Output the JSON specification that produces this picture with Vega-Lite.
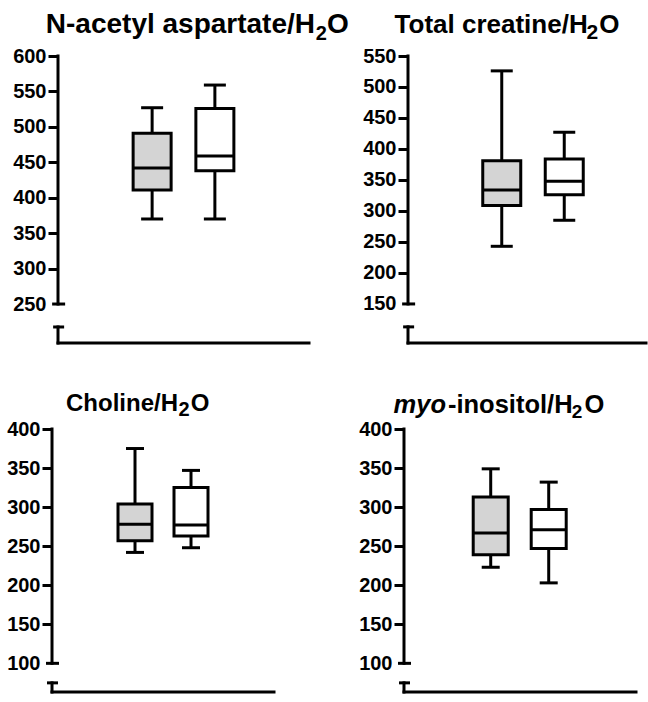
{
  "$schema": "https://vega.github.io/schema/vega-lite/v6.json",
  "background": "white",
  "padding": {"left": 6, "top": 10, "right": 0, "bottom": 0},
  "columns": 2,
  "spacing": {"row": 86, "column": 99},
  "bounds": "flush",
  "config": {
    "view": {"stroke": null},
    "axisY": {"domain": false, "grid": false, "tickSize": 10, "tickWidth": 3, "labelFont": "Liberation Sans", "labelFontSize": 20, "labelFontWeight": "bold", "labelColor": "black", "labelPadding": 2, "labelOverlap": false, "tickCount": 30},
    "text": {"font": "Liberation Sans", "fontWeight": "bold", "color": "black", "baseline": "alphabetic"}
  },
  "concat": [
    {
      "width": 251, "height": 287,
      "data": {"values": [
        {"g": 1, "min": 370, "q1": 411, "med": 442, "q3": 491, "max": 527},
        {"g": 2, "min": 370, "q1": 438, "med": 459, "q3": 526, "max": 559}
      ]},
      "layer": [
        {"mark": {"type": "rule", "color": "black", "strokeWidth": 3},
         "encoding": {
           "x": {"field": "g", "type": "quantitative", "scale": {"domain": [-0.5, 3.5], "nice": false, "zero": false, "padding": 0}, "axis": null},
           "y": {"field": "min", "type": "quantitative", "title": null, "scale": {"domain": [195, 600], "nice": false, "zero": false, "padding": 0},
                 "axis": {"labelOverlap": false, "tickCount": 30, "values": [250, 300, 350, 400, 450, 500, 550, 600], "tickColor": {"condition": {"test": "datum.value <= 250", "value": "transparent"}, "value": "black"}}},
           "y2": {"field": "max"}}},
        {"mark": {"type": "bar", "size": 38, "stroke": "black", "strokeWidth": 3},
         "encoding": {
           "x": {"field": "g", "type": "quantitative", "axis": null},
           "y": {"field": "q1", "type": "quantitative", "title": null},
           "y2": {"field": "q3"},
           "fill": {"field": "g", "type": "nominal", "scale": {"range": ["#d4d4d4", "#ffffff"]}, "legend": null}}},
        {"mark": {"type": "tick", "orient": "horizontal", "size": 38, "thickness": 3, "color": "black", "opacity": 1},
         "encoding": {"x": {"field": "g", "type": "quantitative", "axis": null}, "y": {"field": "med", "type": "quantitative", "title": null}}},
        {"mark": {"type": "tick", "orient": "horizontal", "size": 22, "thickness": 3, "color": "black", "opacity": 1},
         "encoding": {"x": {"field": "g", "type": "quantitative", "axis": null}, "y": {"field": "min", "type": "quantitative", "title": null}}},
        {"mark": {"type": "tick", "orient": "horizontal", "size": 22, "thickness": 3, "color": "black", "opacity": 1},
         "encoding": {"x": {"field": "g", "type": "quantitative", "axis": null}, "y": {"field": "max", "type": "quantitative", "title": null}}},
        {"data": {"values": [{}]},
         "mark": {"type": "rule", "color": "black", "strokeWidth": 3, "strokeCap": "square"},
         "encoding": {"x": {"datum": -0.5, "type": "quantitative", "axis": null}, "y": {"datum": 250, "type": "quantitative", "title": null}, "y2": {"datum": 600}}},
        {"data": {"values": [{}]},
         "mark": {"type": "rule", "color": "black", "strokeWidth": 3, "strokeCap": "square"},
         "encoding": {"x": {"datum": -0.5, "type": "quantitative", "axis": null}, "y": {"datum": 195, "type": "quantitative", "title": null}, "y2": {"datum": 217.6}}},
        {"data": {"values": [{}]},
         "mark": {"type": "rule", "color": "black", "strokeWidth": 3, "strokeCap": "square"},
         "encoding": {"x": {"datum": -0.5, "type": "quantitative", "axis": null}, "x2": {"datum": 3.5}, "y": {"datum": 195, "type": "quantitative", "title": null}}},
        {"data": {"values": [{}]},
         "mark": {"type": "tick", "orient": "horizontal", "size": 13, "thickness": 3, "color": "black", "opacity": 1},
         "encoding": {"x": {"datum": -0.49, "type": "quantitative", "axis": null}, "y": {"datum": 250, "type": "quantitative", "title": null}}},
        {"data": {"values": [{}]},
         "mark": {"type": "tick", "orient": "horizontal", "size": 11, "thickness": 3, "color": "black", "opacity": 1},
         "encoding": {"x": {"datum": -0.49, "type": "quantitative", "axis": null}, "y": {"datum": 217.6, "type": "quantitative", "title": null}}},
        {"data": {"values": [{"t": "N-acetyl aspartate/H"}]},
         "mark": {"type": "text", "align": "right", "fontSize": 28},
         "encoding": {"text": {"field": "t"}, "x": {"datum": 3.596, "type": "quantitative", "axis": null}, "y": {"datum": 632.5, "type": "quantitative", "title": null}}},
        {"data": {"values": [{"t": "2"}]},
         "mark": {"type": "text", "align": "left", "fontSize": 20},
         "encoding": {"text": {"field": "t"}, "x": {"datum": 3.606, "type": "quantitative", "axis": null}, "y": {"datum": 623, "type": "quantitative", "title": null}}},
        {"data": {"values": [{"t": "O"}]},
         "mark": {"type": "text", "align": "left", "fontSize": 28},
         "encoding": {"text": {"field": "t"}, "x": {"datum": 3.787, "type": "quantitative", "axis": null}, "y": {"datum": 632.5, "type": "quantitative", "title": null}}}
      ]
    },
    {
      "width": 238, "height": 287,
      "data": {"values": [
        {"g": 1, "min": 243, "q1": 309, "med": 334, "q3": 381, "max": 526},
        {"g": 2, "min": 285, "q1": 326, "med": 348, "q3": 384, "max": 427}
      ]},
      "layer": [
        {"mark": {"type": "rule", "color": "black", "strokeWidth": 3},
         "encoding": {
           "x": {"field": "g", "type": "quantitative", "scale": {"domain": [-0.5, 3.308], "nice": false, "zero": false, "padding": 0}, "axis": null},
           "y": {"field": "min", "type": "quantitative", "title": null, "scale": {"domain": [87, 550], "nice": false, "zero": false, "padding": 0},
                 "axis": {"labelOverlap": false, "tickCount": 30, "values": [150, 200, 250, 300, 350, 400, 450, 500, 550], "tickColor": {"condition": {"test": "datum.value <= 150", "value": "transparent"}, "value": "black"}}},
           "y2": {"field": "max"}}},
        {"mark": {"type": "bar", "size": 38, "stroke": "black", "strokeWidth": 3},
         "encoding": {
           "x": {"field": "g", "type": "quantitative", "axis": null},
           "y": {"field": "q1", "type": "quantitative", "title": null},
           "y2": {"field": "q3"},
           "fill": {"field": "g", "type": "nominal", "scale": {"range": ["#d4d4d4", "#ffffff"]}, "legend": null}}},
        {"mark": {"type": "tick", "orient": "horizontal", "size": 38, "thickness": 3, "color": "black", "opacity": 1},
         "encoding": {"x": {"field": "g", "type": "quantitative", "axis": null}, "y": {"field": "med", "type": "quantitative", "title": null}}},
        {"mark": {"type": "tick", "orient": "horizontal", "size": 22, "thickness": 3, "color": "black", "opacity": 1},
         "encoding": {"x": {"field": "g", "type": "quantitative", "axis": null}, "y": {"field": "min", "type": "quantitative", "title": null}}},
        {"mark": {"type": "tick", "orient": "horizontal", "size": 22, "thickness": 3, "color": "black", "opacity": 1},
         "encoding": {"x": {"field": "g", "type": "quantitative", "axis": null}, "y": {"field": "max", "type": "quantitative", "title": null}}},
        {"data": {"values": [{}]},
         "mark": {"type": "rule", "color": "black", "strokeWidth": 3, "strokeCap": "square"},
         "encoding": {"x": {"datum": -0.5, "type": "quantitative", "axis": null}, "y": {"datum": 150, "type": "quantitative", "title": null}, "y2": {"datum": 550}}},
        {"data": {"values": [{}]},
         "mark": {"type": "rule", "color": "black", "strokeWidth": 3, "strokeCap": "square"},
         "encoding": {"x": {"datum": -0.5, "type": "quantitative", "axis": null}, "y": {"datum": 87, "type": "quantitative", "title": null}, "y2": {"datum": 113}}},
        {"data": {"values": [{}]},
         "mark": {"type": "rule", "color": "black", "strokeWidth": 3, "strokeCap": "square"},
         "encoding": {"x": {"datum": -0.5, "type": "quantitative", "axis": null}, "x2": {"datum": 3.308}, "y": {"datum": 87, "type": "quantitative", "title": null}}},
        {"data": {"values": [{}]},
         "mark": {"type": "tick", "orient": "horizontal", "size": 13, "thickness": 3, "color": "black", "opacity": 1},
         "encoding": {"x": {"datum": -0.49, "type": "quantitative", "axis": null}, "y": {"datum": 150, "type": "quantitative", "title": null}}},
        {"data": {"values": [{}]},
         "mark": {"type": "tick", "orient": "horizontal", "size": 11, "thickness": 3, "color": "black", "opacity": 1},
         "encoding": {"x": {"datum": -0.49, "type": "quantitative", "axis": null}, "y": {"datum": 113, "type": "quantitative", "title": null}}},
        {"data": {"values": [{"t": "Total creatine/H"}]},
         "mark": {"type": "text", "align": "right", "fontSize": 26},
         "encoding": {"text": {"field": "t"}, "x": {"datum": 2.375, "type": "quantitative", "axis": null}, "y": {"datum": 586.6, "type": "quantitative", "title": null}}},
        {"data": {"values": [{"t": "2"}]},
         "mark": {"type": "text", "align": "left", "fontSize": 21},
         "encoding": {"text": {"field": "t"}, "x": {"datum": 2.354, "type": "quantitative", "axis": null}, "y": {"datum": 576.9, "type": "quantitative", "title": null}}},
        {"data": {"values": [{"t": "O"}]},
         "mark": {"type": "text", "align": "left", "fontSize": 26},
         "encoding": {"text": {"field": "t"}, "x": {"datum": 2.558, "type": "quantitative", "axis": null}, "y": {"datum": 586.6, "type": "quantitative", "title": null}}}
      ]
    },
    {
      "width": 216, "height": 263,
      "data": {"values": [
        {"g": 1, "min": 242, "q1": 257, "med": 278, "q3": 304, "max": 375},
        {"g": 2, "min": 248, "q1": 263, "med": 277, "q3": 325, "max": 347}
      ]},
      "layer": [
        {"mark": {"type": "rule", "color": "black", "strokeWidth": 3},
         "encoding": {
           "x": {"field": "g", "type": "quantitative", "scale": {"domain": [-0.375, 3.482], "nice": false, "zero": false, "padding": 0}, "axis": null},
           "y": {"field": "min", "type": "quantitative", "title": null, "scale": {"domain": [63.3, 400], "nice": false, "zero": false, "padding": 0},
                 "axis": {"labelOverlap": false, "tickCount": 30, "offset": 6, "values": [100, 150, 200, 250, 300, 350, 400], "tickColor": {"condition": {"test": "datum.value <= 100", "value": "transparent"}, "value": "black"}}},
           "y2": {"field": "max"}}},
        {"mark": {"type": "bar", "size": 34, "stroke": "black", "strokeWidth": 3},
         "encoding": {
           "x": {"field": "g", "type": "quantitative", "axis": null},
           "y": {"field": "q1", "type": "quantitative", "title": null},
           "y2": {"field": "q3"},
           "fill": {"field": "g", "type": "nominal", "scale": {"range": ["#d4d4d4", "#ffffff"]}, "legend": null}}},
        {"mark": {"type": "tick", "orient": "horizontal", "size": 34, "thickness": 3, "color": "black", "opacity": 1},
         "encoding": {"x": {"field": "g", "type": "quantitative", "axis": null}, "y": {"field": "med", "type": "quantitative", "title": null}}},
        {"mark": {"type": "tick", "orient": "horizontal", "size": 18, "thickness": 3, "color": "black", "opacity": 1},
         "encoding": {"x": {"field": "g", "type": "quantitative", "axis": null}, "y": {"field": "min", "type": "quantitative", "title": null}}},
        {"mark": {"type": "tick", "orient": "horizontal", "size": 18, "thickness": 3, "color": "black", "opacity": 1},
         "encoding": {"x": {"field": "g", "type": "quantitative", "axis": null}, "y": {"field": "max", "type": "quantitative", "title": null}}},
        {"data": {"values": [{}]},
         "mark": {"type": "rule", "color": "black", "strokeWidth": 3, "strokeCap": "square"},
         "encoding": {"x": {"datum": -0.482, "type": "quantitative", "axis": null}, "y": {"datum": 100, "type": "quantitative", "title": null}, "y2": {"datum": 400}}},
        {"data": {"values": [{}]},
         "mark": {"type": "rule", "color": "black", "strokeWidth": 3, "strokeCap": "square"},
         "encoding": {"x": {"datum": -0.482, "type": "quantitative", "axis": null}, "y": {"datum": 63.3, "type": "quantitative", "title": null}, "y2": {"datum": 75}}},
        {"data": {"values": [{}]},
         "mark": {"type": "rule", "color": "black", "strokeWidth": 3, "strokeCap": "square"},
         "encoding": {"x": {"datum": -0.482, "type": "quantitative", "axis": null}, "x2": {"datum": 3.482}, "y": {"datum": 63.3, "type": "quantitative", "title": null}}},
        {"data": {"values": [{}]},
         "mark": {"type": "tick", "orient": "horizontal", "size": 13, "thickness": 3, "color": "black", "opacity": 1},
         "encoding": {"x": {"datum": -0.473, "type": "quantitative", "axis": null}, "y": {"datum": 100, "type": "quantitative", "title": null}}},
        {"data": {"values": [{}]},
         "mark": {"type": "tick", "orient": "horizontal", "size": 11, "thickness": 3, "color": "black", "opacity": 1},
         "encoding": {"x": {"datum": -0.473, "type": "quantitative", "axis": null}, "y": {"datum": 75, "type": "quantitative", "title": null}}},
        {"data": {"values": [{"t": "Choline/H"}]},
         "mark": {"type": "text", "align": "right", "fontSize": 24},
         "encoding": {"text": {"field": "t"}, "x": {"datum": 1.768, "type": "quantitative", "axis": null}, "y": {"datum": 423.4, "type": "quantitative", "title": null}}},
        {"data": {"values": [{"t": "2"}]},
         "mark": {"type": "text", "align": "left", "fontSize": 20},
         "encoding": {"text": {"field": "t"}, "x": {"datum": 1.775, "type": "quantitative", "axis": null}, "y": {"datum": 416.6, "type": "quantitative", "title": null}}},
        {"data": {"values": [{"t": "O"}]},
         "mark": {"type": "text", "align": "left", "fontSize": 24},
         "encoding": {"text": {"field": "t"}, "x": {"datum": 1.996, "type": "quantitative", "axis": null}, "y": {"datum": 423.4, "type": "quantitative", "title": null}}}
      ]
    },
    {
      "width": 228, "height": 263,
      "data": {"values": [
        {"g": 1, "min": 223, "q1": 239, "med": 267, "q3": 313, "max": 349},
        {"g": 2, "min": 203, "q1": 247, "med": 271, "q3": 297, "max": 332}
      ]},
      "layer": [
        {"mark": {"type": "rule", "color": "black", "strokeWidth": 3},
         "encoding": {
           "x": {"field": "g", "type": "quantitative", "scale": {"domain": [-0.426, 3.505], "nice": false, "zero": false, "padding": 0}, "axis": null},
           "y": {"field": "min", "type": "quantitative", "title": null, "scale": {"domain": [63.3, 400], "nice": false, "zero": false, "padding": 0},
                 "axis": {"labelOverlap": false, "tickCount": 30, "offset": 4, "values": [100, 150, 200, 250, 300, 350, 400], "tickColor": {"condition": {"test": "datum.value <= 100", "value": "transparent"}, "value": "black"}}},
           "y2": {"field": "max"}}},
        {"mark": {"type": "bar", "size": 35, "stroke": "black", "strokeWidth": 3},
         "encoding": {
           "x": {"field": "g", "type": "quantitative", "axis": null},
           "y": {"field": "q1", "type": "quantitative", "title": null},
           "y2": {"field": "q3"},
           "fill": {"field": "g", "type": "nominal", "scale": {"range": ["#d4d4d4", "#ffffff"]}, "legend": null}}},
        {"mark": {"type": "tick", "orient": "horizontal", "size": 35, "thickness": 3, "color": "black", "opacity": 1},
         "encoding": {"x": {"field": "g", "type": "quantitative", "axis": null}, "y": {"field": "med", "type": "quantitative", "title": null}}},
        {"mark": {"type": "tick", "orient": "horizontal", "size": 18, "thickness": 3, "color": "black", "opacity": 1},
         "encoding": {"x": {"field": "g", "type": "quantitative", "axis": null}, "y": {"field": "min", "type": "quantitative", "title": null}}},
        {"mark": {"type": "tick", "orient": "horizontal", "size": 18, "thickness": 3, "color": "black", "opacity": 1},
         "encoding": {"x": {"field": "g", "type": "quantitative", "axis": null}, "y": {"field": "max", "type": "quantitative", "title": null}}},
        {"data": {"values": [{}]},
         "mark": {"type": "rule", "color": "black", "strokeWidth": 3, "strokeCap": "square"},
         "encoding": {"x": {"datum": -0.495, "type": "quantitative", "axis": null}, "y": {"datum": 100, "type": "quantitative", "title": null}, "y2": {"datum": 400}}},
        {"data": {"values": [{}]},
         "mark": {"type": "rule", "color": "black", "strokeWidth": 3, "strokeCap": "square"},
         "encoding": {"x": {"datum": -0.495, "type": "quantitative", "axis": null}, "y": {"datum": 63.3, "type": "quantitative", "title": null}, "y2": {"datum": 75}}},
        {"data": {"values": [{}]},
         "mark": {"type": "rule", "color": "black", "strokeWidth": 3, "strokeCap": "square"},
         "encoding": {"x": {"datum": -0.495, "type": "quantitative", "axis": null}, "x2": {"datum": 3.505}, "y": {"datum": 63.3, "type": "quantitative", "title": null}}},
        {"data": {"values": [{}]},
         "mark": {"type": "tick", "orient": "horizontal", "size": 13, "thickness": 3, "color": "black", "opacity": 1},
         "encoding": {"x": {"datum": -0.486, "type": "quantitative", "axis": null}, "y": {"datum": 100, "type": "quantitative", "title": null}}},
        {"data": {"values": [{}]},
         "mark": {"type": "tick", "orient": "horizontal", "size": 11, "thickness": 3, "color": "black", "opacity": 1},
         "encoding": {"x": {"datum": -0.486, "type": "quantitative", "axis": null}, "y": {"datum": 75, "type": "quantitative", "title": null}}},
        {"data": {"values": [{"t": "myo"}]},
         "mark": {"type": "text", "align": "right", "fontSize": 25.5, "fontStyle": "italic"},
         "encoding": {"text": {"field": "t"}, "x": {"datum": 0.229, "type": "quantitative", "axis": null}, "y": {"datum": 420.1, "type": "quantitative", "title": null}}},
        {"data": {"values": [{"t": "-inositol/H"}]},
         "mark": {"type": "text", "align": "right", "fontSize": 25.5},
         "encoding": {"text": {"field": "t"}, "x": {"datum": 2.412, "type": "quantitative", "axis": null}, "y": {"datum": 420.1, "type": "quantitative", "title": null}}},
        {"data": {"values": [{"t": "2"}]},
         "mark": {"type": "text", "align": "left", "fontSize": 19},
         "encoding": {"text": {"field": "t"}, "x": {"datum": 2.396, "type": "quantitative", "axis": null}, "y": {"datum": 413.7, "type": "quantitative", "title": null}}},
        {"data": {"values": [{"t": "O"}]},
         "mark": {"type": "text", "align": "left", "fontSize": 25.5},
         "encoding": {"text": {"field": "t"}, "x": {"datum": 2.615, "type": "quantitative", "axis": null}, "y": {"datum": 420.1, "type": "quantitative", "title": null}}}
      ]
    }
  ]
}
